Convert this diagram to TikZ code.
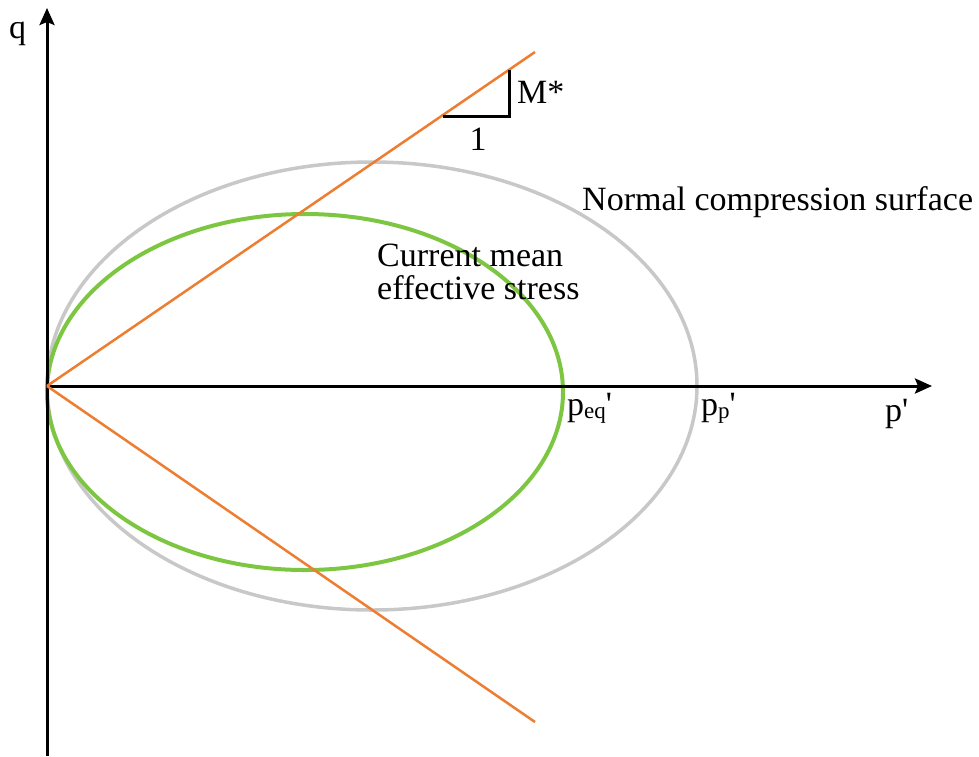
\documentclass[tikz,border=0pt]{standalone}
\usepackage{fontspec}
\setmainfont{Liberation Serif}[Ligatures=TeXOff]
\usetikzlibrary{arrows.meta}
\definecolor{orangeline}{RGB}{237,125,49}
\definecolor{greenline}{RGB}{125,198,66}
\definecolor{grayline}{RGB}{200,200,200}
\tikzset{
  axis/.style={line width=3pt,-{Stealth[length=17pt,width=15pt,inset=3pt]}},
  lbl/.style={inner sep=0pt,anchor=base west,font=\fontsize{34}{33}\selectfont},
  slope/.style={orangeline,line width=2.5pt},
}
\begin{document}
\begin{tikzpicture}[x=1pt,y=-1pt]
\useasboundingbox (0,0) rectangle (979,756);
\coordinate (O) at (47,386);
\coordinate (Qbot) at (47,756);
\coordinate (Qtop) at (47,8);
\coordinate (Pend) at (932,386);
\coordinate (Uend) at (535,52);
\coordinate (Lend) at (535,722);
% ellipses
\draw[grayline,line width=3.5pt] (372,386) ellipse [x radius=325,y radius=224];
\draw[greenline,line width=4pt] (305,392) ellipse [x radius=258,y radius=178];
% axes
\draw[axis] (Qbot) -- (Qtop);
\draw[axis] (O) -- (Pend);
% slope lines
\draw[slope] (O) -- (Uend);
\draw[slope] (O) -- (Lend);
% slope triangle
\coordinate (Ta) at (443,116);
\coordinate (Tb) at (509,116);
\coordinate (Tc) at (509,70);
\draw[line width=3pt] (Ta) -- (Tb) -- (Tc);
% labels
\node[lbl] (q) at (9,38) {q};
\node[lbl] (M) at (517,103) {M*};
\node[lbl,anchor=base] (one) at (478,150) {1};
\node[lbl] (ncs) at (582,210) {Normal compression surface};
\node[lbl,align=left,anchor=north west] (cmes) at (377,244) {Current mean\\effective stress};
\node[lbl] (peq) at (567,415) {p\raisebox{-3pt}{\fontsize{23}{23}\selectfont eq}'};
\node[lbl] (pp) at (701,415) {p\raisebox{-3pt}{\fontsize{23}{23}\selectfont p}'};
\node[lbl] (pl) at (885,421) {p'};
\end{tikzpicture}
\end{document}
